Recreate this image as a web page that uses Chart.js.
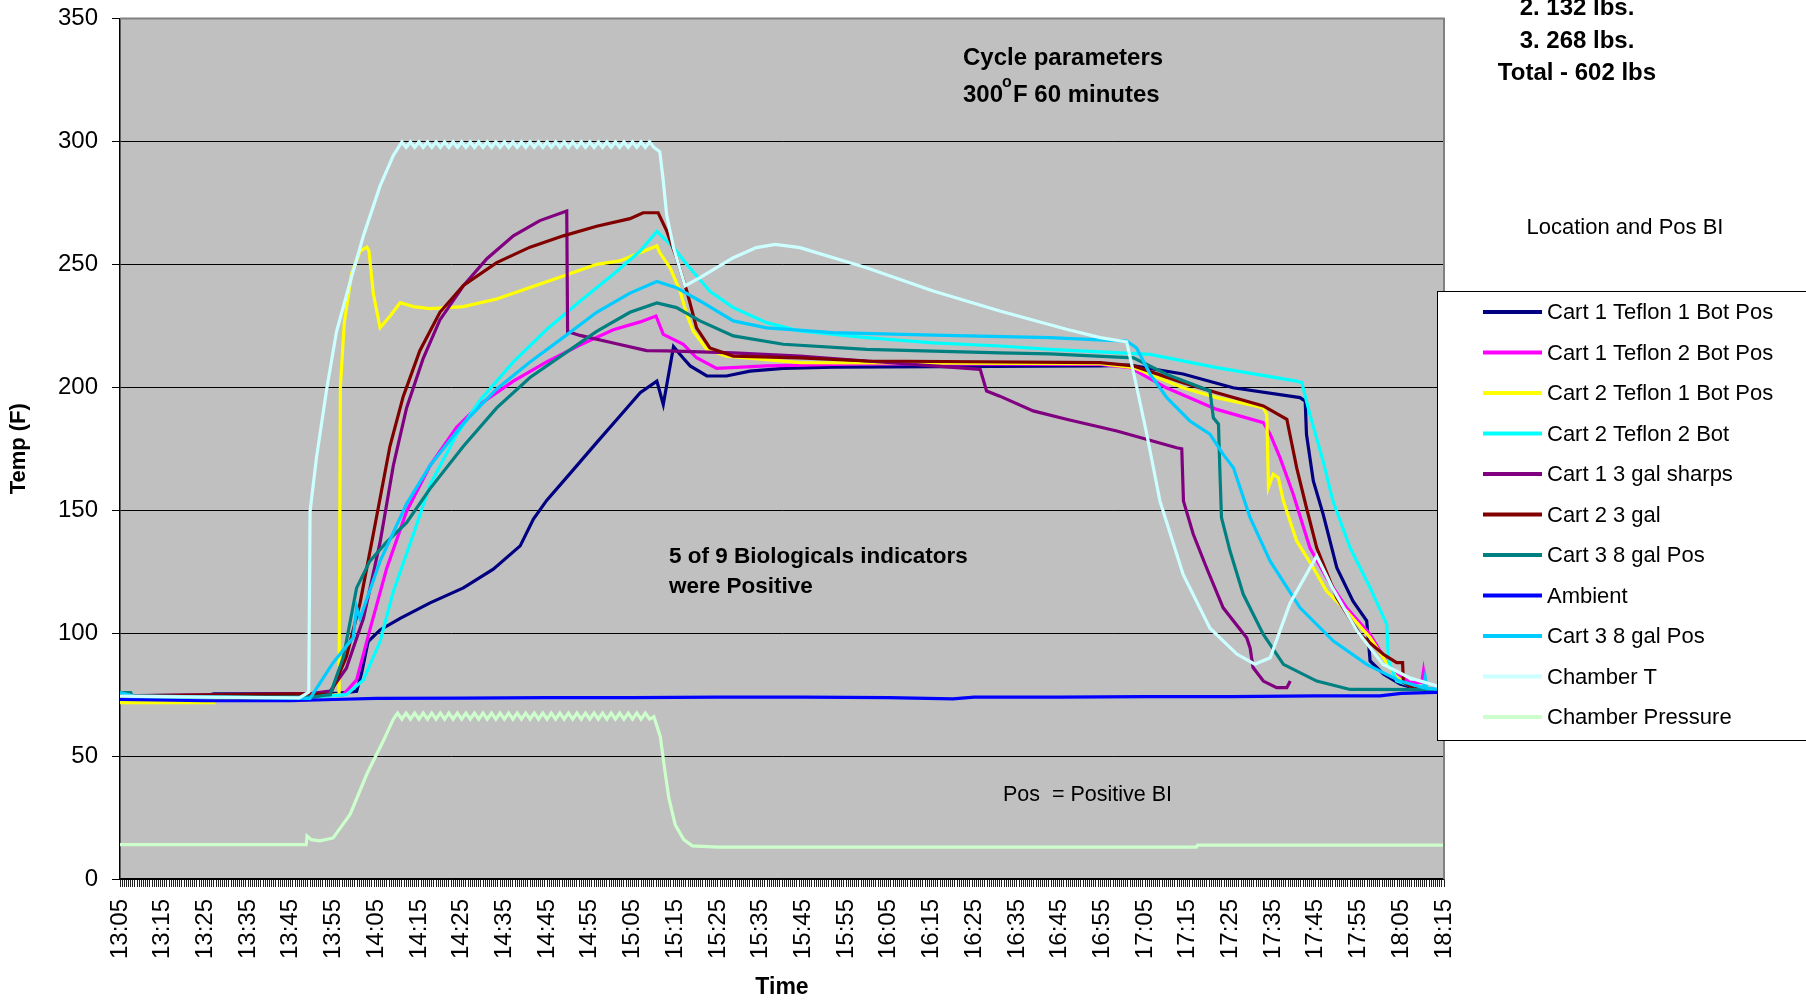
<!DOCTYPE html>
<html>
<head>
<meta charset="utf-8">
<script src="https://cdn.jsdelivr.net/npm/chart.js@4.4.0/dist/chart.umd.min.js"></script>
<style>
  html, body { margin: 0; padding: 0; background: #fff; }
</style>
</head>
<body>
<canvas id="myChart" width="1806" height="1001"></canvas>
<script>
// x values are minutes after 13:05, y values are temps (F) / pressure

const timeLabels = ['13:05', '13:15', '13:25', '13:35', '13:45', '13:55', '14:05', '14:15',
    '14:25', '14:35', '14:45', '14:55', '15:05', '15:15', '15:25', '15:35', '15:45', '15:55',
    '16:05', '16:15', '16:25', '16:35', '16:45', '16:55', '17:05', '17:15', '17:25', '17:35',
    '17:45', '17:55', '18:05', '18:15'];

const seriesNames = ['Cart 1 Teflon 1 Bot Pos', 'Cart 1 Teflon 2 Bot Pos', 'Cart 2 Teflon 1 Bot Pos',
    'Cart 2 Teflon 2 Bot', 'Cart 1 3 gal sharps', 'Cart 2 3 gal', 'Cart 3 8 gal Pos', 'Ambient',
    'Cart 3 8 gal Pos', 'Chamber T', 'Chamber Pressure'];

const seriesColors = ['#000080', '#ff00ff', '#ffff00', '#00ffff', '#800080', '#800000',
    '#008080', '#0000ff', '#00ccff', '#ccffff', '#ccffcc'];

// Cart 1 Teflon 1 Bot Pos
const c1t1Min = [0, 20, 22, 45, 51.5, 55.4, 56.6, 58.1, 60.9, 65.6, 72.6, 80.4, 87.4, 93.7, 96.8,
    99.9, 105.4, 111.6, 117.1, 121.8, 125.7, 127.2, 129.6, 131.8, 133.5, 137.4, 142, 147.5, 155.3,
    167, 229.5, 236.5, 248.9, 260.6, 276.3, 277.5, 277.8, 279.4, 281.7, 284.9, 288.7, 291.9, 292.7,
    295.8, 299.7, 303.6, 310];
const c1t1Temp = [74.5, 74.5, 75.3, 75.3, 75.6, 76.4, 84, 96.6, 101.3, 106, 112.3, 118.4, 126, 135.5,
    146.4, 154, 165, 177.5, 188.4, 197.8, 202.5, 193, 216.5, 212, 208.7, 204.6, 204.6, 206.6, 207.7,
    208.2, 208.7, 209, 205.4, 199.8, 195.8, 194.4, 180.9, 161.9, 148.4, 126.6, 113, 105, 88.7,
    83.4, 79.3, 77.3, 76];

// Cart 1 Teflon 2 Bot Pos
const c1t2Min = [0, 45, 52.3, 55.4, 58.5, 62.4, 67.1, 72.6, 78.8, 84.3, 92.1, 99.9, 107.7, 115.5,
    121.8, 125.5, 127.2, 131.9, 135, 139.7, 151.4, 174.8, 229.5, 236.5, 245, 256.8, 267.7, 269.3,
    271.6, 274.7, 278.6, 282.5, 287.2, 292.7, 297.4, 302, 304.8, 305.2, 305.6];
const c1t2Temp = [74, 74, 75, 81, 101.3, 126.1, 149.5, 168.2, 183.7, 193.1, 202.5, 210.3, 217.2,
    223.4, 226.6, 229, 221.5, 217.5, 212, 207.7, 208.7, 209.6, 209.3, 208, 199.8, 191, 185.6, 180.9,
    171.4, 156.5, 134.7, 122.6, 110.3, 99.5, 86, 79.9, 80, 84.6, 80];

// Cart 2 Teflon 1 Bot Pos
const c2t1Min = [0, 21.8, 22, 40, 51.3, 51.6, 52.5, 54.2, 56.2, 57.8, 58.3, 59.3, 60.9, 63.2, 65.6,
    68.7, 72.6, 80.4, 88.2, 96, 103.8, 111.6, 117, 125.7, 126.4, 128.8, 131.1, 132.7, 134.2, 137.4,
    142, 159.2, 229.5, 237.3, 248.9, 256.8, 267.7, 268.5, 268.9, 270, 271.2, 272.4, 275.5, 279.4,
    282.5, 287.2, 292.7, 298.9, 303, 310];
const c2t1Temp = [71.7, 71.7, 73.5, 73.5, 75, 200, 226, 246, 255.4, 257, 255.4, 238.2, 224.2, 228.9,
    234.4, 232.8, 232, 232.8, 235.9, 240.6, 245.3, 250, 251.4, 257.5, 254.7, 248.6, 239.2, 229.7,
    222.9, 215.4, 212.7, 210, 209.6, 208, 199.8, 195.8, 191.7, 189, 159.2, 164.6, 163.2, 153.7,
    137.5, 126.6, 117.1, 109, 98.1, 81.9, 77.5, 76.5];

// Cart 2 Teflon 2 Bot
const c2t2Min = [0, 45, 53, 57, 60.9, 64, 68.7, 72.6, 78.8, 84.3, 92.1, 99.9, 107.7, 115.5, 121.8,
    125.7, 129.6, 132.7, 138.1, 143.6, 151.4, 159.2, 174.8, 190.4, 206, 217.7, 241.2, 256.8, 275.5,
    276.7, 278.6, 281.7, 284, 288, 292.7, 296.6, 297, 298.9, 303.6, 310];
const c2t2Temp = [74, 74, 75, 81, 96.6, 116.9, 140.2, 160.4, 180.7, 194.7, 210.3, 223.5, 235, 246,
    255.4, 263.4, 256.8, 250, 239, 232.4, 226.3, 222.9, 220.2, 218.1, 216.8, 215.4, 213.4, 208,
    202.5, 201.9, 189, 170, 153.7, 134.8, 118.5, 103.6, 88.7, 80.5, 77.8, 76];

// Cart 1 3 gal sharps
const c1sharpsMin = [0, 45, 49.2, 53, 57, 60.9, 64, 67.1, 71, 74.9, 80.4, 85.9, 92.1, 98.3, 104.6,
    104.8, 107.7, 115.5, 123.3, 128, 143.6, 159.2, 174.8, 190.4, 201.4, 202.9, 206, 213.8, 221.6,
    233.4, 247.4, 248.6, 249, 251.3, 254.4, 258.3, 263.8, 264.6, 265.3, 267.7, 270.8, 273.2, 274];
const c1sharpsTemp = [74.5, 75.5, 76.4, 85.7, 106, 137, 168.2, 191.6, 211.8, 227.4, 241.3, 252.3,
    261.6, 267.8, 271.7, 222.7, 221.1, 218, 214.9, 214.8, 214, 212.7, 210.7, 208.7, 207.3, 198.5,
    196.4, 190.4, 187, 182.2, 175.4, 175, 153.7, 140.2, 126.6, 110.3, 98.1, 94, 86, 80.5, 77.8,
    77.8, 80.5];

// Cart 2 3 gal
const c2galMin = [0, 18.7, 45, 49.2, 53, 56.2, 59.3, 63.2, 66.3, 70.2, 74.9, 80.4, 88.2, 96, 103.8,
    111.6, 119.4, 122.5, 126, 128, 130.3, 132.7, 135, 138.1, 143.6, 159.2, 174.8, 229.5, 237.3,
    248.9, 256.8, 267.7, 273.2, 275.5, 277.8, 280.2, 284.9, 290.3, 295.8, 298.9, 300.3, 300.5,
    303, 310];
const c2galTemp = [74.5, 74.8, 75.3, 75, 90.3, 112.2, 140.2, 176, 196.2, 214.9, 230.5, 241.4, 250.7,
    257, 261.6, 265.5, 268.6, 271, 271, 263.6, 252.7, 239.2, 224.2, 216, 212.7, 212, 210.7, 210,
    208.7, 201.9, 197.8, 192.4, 187, 167.3, 151, 134.7, 114.4, 99.5, 91.4, 88, 88, 80, 77.5, 76.5];

// Cart 3 8 gal Pos (teal)
const c3aMin = [0, 2.5, 3, 45, 49.2, 52.3, 55.4, 58.5, 62.4, 67.1, 72.6, 80.4, 88.2, 96, 103.8,
    111.6, 119.4, 125.7, 130.3, 135.8, 143.6, 155.3, 174.8, 206, 217.7, 237.3, 245, 255.2, 256,
    257.2, 257.5, 257.9, 259.9, 263, 267.7, 272.4, 280.2, 288, 310];
const c3aTemp = [75.8, 75.8, 74.2, 74, 75, 90.3, 118.4, 129.3, 137, 144.9, 158.8, 176, 191.6, 204,
    213.4, 222.7, 230.5, 234.3, 232.4, 227, 220.9, 217.5, 215.4, 214, 213.6, 212, 205.3, 198.5,
    187.6, 185, 167.3, 147, 133.4, 115.8, 99.5, 87.3, 80.5, 77.1, 77];

// Ambient
const ambientMin = [0, 20, 40, 46, 50, 60, 80, 100, 120, 140, 160, 180, 195, 200, 220, 240, 260,
    280, 295, 300, 310];
const ambientTemp = [73, 72.5, 72.5, 72.8, 73, 73.5, 73.6, 73.8, 73.8, 74, 74, 73.8, 73.3, 74, 74,
    74.2, 74.2, 74.5, 74.5, 75.5, 76];

// Cart 3 8 gal Pos (sky blue)
const c3bMin = [0, 3, 44.5, 49.9, 54.6, 55.4, 56.2, 60.9, 67.1, 72.6, 80.4, 88.2, 96, 103.8, 111.6,
    119.4, 125.7, 130.3, 135.8, 143.6, 151.4, 167, 190.4, 217.7, 235.7, 238, 241.2, 245.1, 250.5,
    255.2, 258.3, 260.7, 264.6, 269.3, 276.3, 284.1, 291.9, 299.7, 305.2, 305.6, 306, 310];
const c3bTemp = [75.8, 74.5, 73.5, 88, 98.1, 110.6, 106, 129.3, 152.6, 168.2, 185.3, 199.3, 210.3,
    220.3, 230.5, 238.3, 243, 240.5, 235.1, 227, 224.2, 222.2, 221.2, 220.2, 218.8, 216, 205.3,
    195.8, 186.3, 180.9, 172.7, 167.3, 147, 129.3, 110.3, 96.8, 87.3, 80.5, 77.8, 82, 77.5, 77];

// Chamber T
const chamberMin = [0, 20, 42, 44.2, 44.5, 46, 48.4, 50.7, 53.9, 57, 60.9, 64, 66,
    67, 68, 69, 70, 71, 72, 73, 74, 75, 76,
    77, 78, 79, 80, 81, 82, 83, 84, 85, 86,
    87, 88, 89, 90, 91, 92, 93, 94, 95, 96,
    97, 98, 99, 100, 101, 102, 103, 104, 105, 106,
    107, 108, 109, 110, 111, 112, 113, 114, 115, 116,
    117, 118, 119, 120, 121, 122, 123, 124, 125,
    126.4, 127.2, 128, 129.6, 132.3, 135.8, 143.6, 149, 153.4, 159.2, 174.8, 190.4, 206, 221.6,
    229.5, 235.7, 238.1, 240.4, 243.5, 248.9, 255.2, 261.5, 265.7, 269.3, 273.9, 280.2, 284,
    289.6, 295.7, 302, 308.4, 310];
const chamberTemp = [74.4, 74, 73.7, 76, 149.5, 171.3, 199.3, 222.7, 243, 261.6, 281.9, 294.3, 299.8,
    297.6, 299.8, 297.6, 299.8, 297.6, 299.8, 297.6, 299.8, 297.6, 299.8,
    297.6, 299.8, 297.6, 299.8, 297.6, 299.8, 297.6, 299.8, 297.6, 299.8,
    297.6, 299.8, 297.6, 299.8, 297.6, 299.8, 297.6, 299.8, 297.6, 299.8,
    297.6, 299.8, 297.6, 299.8, 297.6, 299.8, 297.6, 299.8, 297.6, 299.8,
    297.6, 299.8, 297.6, 299.8, 297.6, 299.8, 297.6, 299.8, 297.6, 299.8,
    297.6, 299.8, 297.6, 299.8, 297.6, 299.8, 297.6, 299.8, 297.6,
    295.8, 284, 270, 256.8, 241.2, 244.6, 252.7, 256.8, 258.1, 256.8, 248.6, 239.2, 231, 223.6,
    220.2, 218.5, 199.7, 181, 153.7, 124, 102, 91.5, 87.4, 90, 112, 131.4, 118,
    101, 87.4, 81.8, 78.5, 78];

// Chamber Pressure
const pressureMin = [0, 43.6, 43.8, 44.8, 46.8, 49.9, 53.9, 57.8, 61.6,
    64, 65, 66, 67, 68, 69, 70, 71, 72, 73,
    74, 75, 76, 77, 78, 79, 80, 81, 82, 83,
    84, 85, 86, 87, 88, 89, 90, 91, 92, 93,
    94, 95, 96, 97, 98, 99, 100, 101, 102, 103,
    104, 105, 106, 107, 108, 109, 110, 111, 112, 113,
    114, 115, 116, 117, 118, 119, 120, 121, 122, 123,
    124,
    125, 126.5, 127.5, 128.5, 130, 132, 134, 140, 252, 252.3, 310];
const pressureVal = [14, 14, 17.5, 16, 15.5, 16.7, 26.4, 42.7, 56,
    65, 67.5, 65, 67.5, 65, 67.5, 65, 67.5, 65, 67.5,
    65, 67.5, 65, 67.5, 65, 67.5, 65, 67.5, 65, 67.5,
    65, 67.5, 65, 67.5, 65, 67.5, 65, 67.5, 65, 67.5,
    65, 67.5, 65, 67.5, 65, 67.5, 65, 67.5, 65, 67.5,
    65, 67.5, 65, 67.5, 65, 67.5, 65, 67.5, 65, 67.5,
    65, 67.5, 65, 67.5, 65, 67.5, 65, 67.5, 65, 67.5,
    65,
    66, 58, 45, 33, 22, 16, 13.5, 13, 13, 13.8, 13.8];

const seriesMin = [c1t1Min, c1t2Min, c2t1Min, c2t2Min, c1sharpsMin, c2galMin, c3aMin, ambientMin,
    c3bMin, chamberMin, pressureMin];
const seriesVal = [c1t1Temp, c1t2Temp, c2t1Temp, c2t2Temp, c1sharpsTemp, c2galTemp, c3aTemp,
    ambientTemp, c3bTemp, chamberTemp, pressureVal];

const FONT = "'Liberation Sans', Arial, sans-serif";
Chart.defaults.font.family = FONT;
Chart.defaults.color = '#000';

function toPoints(mins, vals) {
    return mins.map(function (m, i) { return { x: m, y: vals[i] }; });
}

const datasets = seriesNames.map(function (name, i) {
    return {
        label: name,
        data: toPoints(seriesMin[i], seriesVal[i]),
        borderColor: seriesColors[i],
        backgroundColor: seriesColors[i],
        borderWidth: 3.2,
        pointRadius: 0,
        tension: 0,
        order: seriesNames.length - 1 - i   // later series drawn on top
    };
});

// grey plot area, frame, notes and legend box
const chartDecor = {
    id: 'chartDecor',
    beforeDraw: function (chart) {
        const ctx = chart.ctx, a = chart.chartArea;
        ctx.save();
        ctx.fillStyle = '#ffffff';
        ctx.fillRect(0, 0, chart.width, chart.height);
        ctx.fillStyle = '#c0c0c0';
        ctx.fillRect(a.left, a.top, a.right - a.left, a.bottom - a.top);
        ctx.restore();
    },
    afterDraw: function (chart) {
        const ctx = chart.ctx, a = chart.chartArea;
        ctx.save();

        ctx.strokeStyle = '#808080';
        ctx.lineWidth = 2;
        ctx.beginPath();
        ctx.moveTo(a.left, a.top);
        ctx.lineTo(a.right, a.top);
        ctx.lineTo(a.right, a.bottom);
        ctx.stroke();

        ctx.fillStyle = '#000';
        ctx.textBaseline = 'middle';

        // cycle parameters
        ctx.textAlign = 'left';
        ctx.font = 'bold 24px ' + FONT;
        ctx.fillText('Cycle parameters', 963, 58);
        ctx.fillText('300', 963, 95);
        ctx.font = 'bold 16px ' + FONT;
        ctx.fillText('o', 1002, 83);
        ctx.font = 'bold 24px ' + FONT;
        ctx.fillText('F 60 minutes', 1013, 95);

        ctx.font = 'bold 22.5px ' + FONT;
        ctx.fillText('5 of 9 Biologicals indicators', 669, 557);
        ctx.fillText('were Positive', 669, 587);

        ctx.font = '21.5px ' + FONT;
        ctx.fillText('Pos  = Positive BI', 1003, 795);

        // load weights, top right
        ctx.textAlign = 'center';
        ctx.font = 'bold 24px ' + FONT;
        ctx.fillText('2. 132 lbs.', 1577, 8);
        ctx.fillText('3. 268 lbs.', 1577, 41);
        ctx.fillText('Total - 602 lbs', 1577, 73);

        ctx.font = '22px ' + FONT;
        ctx.fillText('Location and Pos BI', 1625, 228);

        // legend
        ctx.fillStyle = '#ffffff';
        ctx.fillRect(1437, 291, 400, 450);
        ctx.strokeStyle = '#000';
        ctx.lineWidth = 1;
        ctx.strokeRect(1437.5, 291.5, 400, 449);
        ctx.textAlign = 'left';
        ctx.font = '22px ' + FONT;
        seriesNames.forEach(function (name, i) {
            const y = 312 + 40.5 * i;
            ctx.strokeStyle = seriesColors[i];
            ctx.lineWidth = 4;
            ctx.beginPath();
            ctx.moveTo(1483, y);
            ctx.lineTo(1542, y);
            ctx.stroke();
            ctx.fillStyle = '#000';
            ctx.fillText(name, 1547, y + 1);
        });

        ctx.restore();
    }
};

new Chart(document.getElementById('myChart'), {
    type: 'line',
    data: { datasets: datasets },
    plugins: [chartDecor],
    options: {
        responsive: false,
        animation: false,
        events: [],
        layout: { padding: { top: 18.5, right: 362, left: 0, bottom: 0 } },
        plugins: {
            legend: { display: false },
            tooltip: { enabled: false }
        },
        scales: {
            x: {
                type: 'linear',
                min: 0,
                max: 310,
                afterFit: function (scale) {
                    scale.height = 122;
                    scale.paddingLeft = 0;
                    scale.paddingRight = 0;
                },
                ticks: {
                    stepSize: 0.5,
                    autoSkip: false,
                    minRotation: 90,
                    maxRotation: 90,
                    padding: 12,
                    font: { size: 24 },
                    color: '#000',
                    callback: function (value) {
                        const k = Math.round(value / 10);
                        if (Math.abs(value - k * 10) > 1e-6) return '';
                        return timeLabels[k];
                    }
                },
                grid: {
                    drawOnChartArea: false,
                    drawTicks: true,
                    tickLength: 8,
                    tickColor: '#222',
                    lineWidth: 1
                },
                border: { color: '#000', width: 1.5 },
                title: {
                    display: true,
                    text: 'Time',
                    font: { size: 23, weight: 'bold' },
                    color: '#000',
                    padding: 0
                }
            },
            y: {
                min: 0,
                max: 350,
                afterFit: function (scale) {
                    scale.width = 120;
                    scale.paddingTop = 0;
                    scale.paddingBottom = 0;
                },
                ticks: {
                    stepSize: 50,
                    padding: 14,
                    font: { size: 24 },
                    color: '#000'
                },
                grid: {
                    color: function (c) {
                        return c.tick && c.tick.value === 350 ? '#808080' : '#000';
                    },
                    lineWidth: 1,
                    tickLength: 8,
                    tickColor: '#000'
                },
                border: { color: '#000', width: 1.5 },
                title: {
                    display: true,
                    text: 'Temp (F)',
                    font: { size: 22, weight: 'bold' },
                    color: '#000',
                    padding: { top: 6, bottom: 0 }
                }
            }
        }
    }
});
</script>
</body>
</html>
